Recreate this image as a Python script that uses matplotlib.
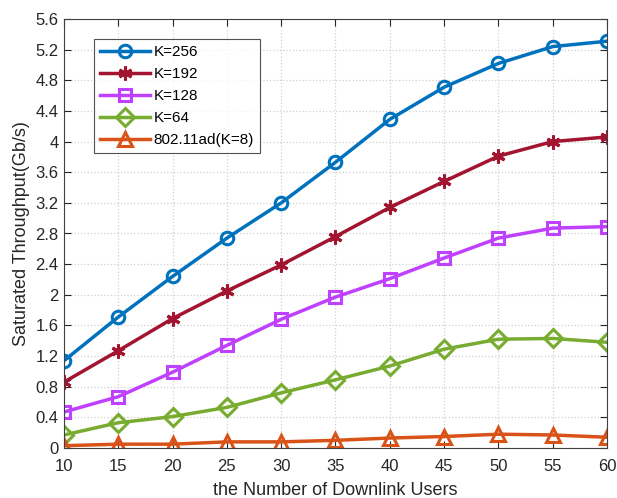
import matplotlib
matplotlib.use("Agg")
import matplotlib.pyplot as plt
import numpy as np

users = [10, 15, 20, 25, 30, 35, 40, 45, 50, 55, 60]
k256 = [1.14, 1.71, 2.24, 2.74, 3.20, 3.73, 4.29, 4.71, 5.02, 5.24, 5.31]
k192 = [0.86, 1.27, 1.69, 2.05, 2.39, 2.76, 3.14, 3.48, 3.81, 4.00, 4.06]
k128 = [0.47, 0.67, 0.99, 1.34, 1.68, 1.97, 2.21, 2.48, 2.74, 2.87, 2.89]
k64 = [0.17, 0.33, 0.41, 0.53, 0.72, 0.89, 1.07, 1.29, 1.42, 1.43, 1.38]
k8 = [0.03, 0.05, 0.05, 0.08, 0.08, 0.10, 0.13, 0.15, 0.18, 0.17, 0.14]
labels = ["K=256", "K=192", "K=128", "K=64", "802.11ad(K=8)"]
yticks = [0, 0.4, 0.8, 1.2, 1.6, 2, 2.4, 2.8, 3.2, 3.6, 4, 4.4, 4.8, 5.2, 5.6]
yticklabels = ["0", "0.4", "0.8", "1.2", "1.6", "2", "2.4", "2.8", "3.2", "3.6", "4", "4.4", "4.8", "5.2", "5.6"]

plt.rcParams['font.family'] = ['Liberation Sans', 'DejaVu Sans']

fig = plt.figure(figsize=(6.17, 4.98), dpi=100)
ax = fig.add_axes([64/617, 1-448/498, (607-64)/617, (448-19)/498])

series = [k256, k192, k128, k64, k8]
colors = ['#0072BD', '#A2142F', '#BF40FF', '#77AC30', '#D95319']
markers = ['o', '*', 's', 'D', '^']
msizes = [9, 10, 8, 9, 10]
for s, c, m, ms, lab in zip(series, colors, markers, msizes, labels):
    if m == '*':
        ax.plot(users, s, color=c, lw=2.5, marker=(6, 2, 0), ms=ms, mew=2.2, label=lab)
    else:
        ax.plot(users, s, color=c, lw=2.5, marker=m, ms=ms, mew=2.2,
                mfc='none', label=lab)

ax.set_xlim(10, 60)
ax.set_ylim(0, 5.6)
ax.set_xticks(users)
ax.set_yticks(yticks)
ax.set_yticklabels(yticklabels)
ax.grid(True, linestyle=':', color='#d0d0d0', lw=0.9)
ax.tick_params(direction='in', labelsize=12, colors='#262626', length=5, top=True, right=True)
ax.tick_params(axis='x', pad=8)
ax.tick_params(axis='y', pad=4)
for sp in ax.spines.values():
    sp.set_color('#404040')
    sp.set_linewidth(0.8)
ax.set_xlabel('the Number of Downlink Users', fontsize=13, color='#262626', labelpad=6)
ax.set_ylabel('Saturated Throughput(Gb/s)', fontsize=13, color='#262626', labelpad=4)

leg = ax.legend(loc='upper left', bbox_to_anchor=(0.055, 0.953), fontsize=11, frameon=True,
                fancybox=False, edgecolor='#262626', handlelength=3.3, borderpad=0.4,
                labelspacing=0.52, handletextpad=0.2, borderaxespad=0)
leg.get_frame().set_linewidth(0.8)

fig.savefig('out.png', dpi=100)
